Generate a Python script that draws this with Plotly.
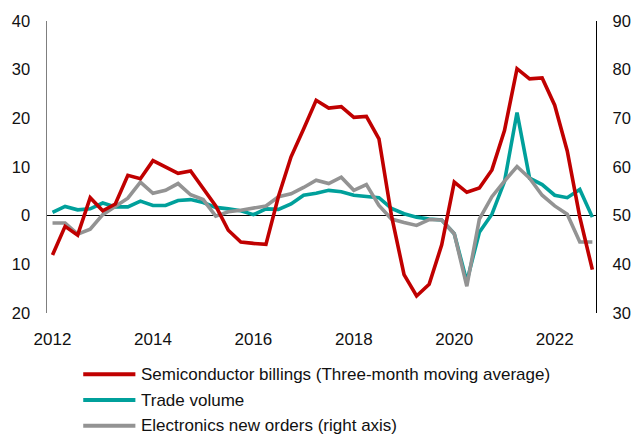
import plotly.graph_objects as go

# Quarterly periods 2012Q1 .. 2022Q4
quarters = [f"{y}Q{q}" for y in range(2012, 2023) for q in range(1, 5)]

semiconductor_billings = [-8.1, -2.2, -4.0, 3.7, 1.0, 2.4, 8.3, 7.6, 11.3, 10.1,
                          8.7, 9.2, 5.7, 2.0, -3.0, -5.4, -5.7, -5.9, 4.0, 12.1,
                          17.8, 23.7, 22.1, 22.4, 20.2, 20.4, 15.8, 0.0, -12.1, -16.5,
                          -14.1, -6.0, 6.9, 4.8, 5.7, 9.4, 17.5, 30.2, 28.1, 28.3,
                          22.7, 13.3, -0.3, -11.1]
trade_volume = [0.7, 1.9, 1.2, 1.4, 2.6, 1.8, 1.8, 3.0, 2.1, 2.1,
                3.1, 3.3, 2.7, 1.7, 1.4, 1.0, 0.2, 1.4, 1.3, 2.4,
                4.2, 4.6, 5.2, 4.9, 4.2, 3.9, 3.7, 1.5, 0.4, -0.3,
                -0.7, -0.9, -3.7, -13.5, -3.4, 0.3, 7.0, 21.2, 7.7, 6.4,
                4.2, 3.7, 5.4, -0.3]
electronics_orders = [48.5, 48.5, 46.2, 47.2, 50.2, 51.9, 53.6, 56.9, 54.6, 55.2,
                      56.6, 54.3, 53.3, 49.9, 50.8, 51.1, 51.5, 52.0, 53.9, 54.5,
                      55.8, 57.3, 56.6, 57.9, 55.2, 56.4, 52.1, 49.3, 48.6, 48.0,
                      49.2, 49.1, 46.3, 35.5, 49.3, 53.9, 57.1, 60.1, 57.7, 54.2,
                      52.0, 50.3, 44.6, 44.6]

series_names = ["Semiconductor billings (Three-month moving average)",
                "Trade volume",
                "Electronics new orders (right axis)"]
series_colors = ["#C00000", "#00A09B", "#939393"]

x_tick_vals = ["2012Q1", "2014Q1", "2016Q1", "2018Q1", "2020Q1", "2022Q1"]
x_tick_text = ["2012", "2014", "2016", "2018", "2020", "2022"]
left_tick_vals = [-20, -10, 0, 10, 20, 30, 40]
left_tick_text = ["20", "10", "0", "10", "20", "30", "40"]
right_tick_vals = [30, 40, 50, 60, 70, 80, 90]

FONT = "Liberation Sans, Arial, sans-serif"

fig = go.Figure()
fig.add_trace(go.Scatter(x=quarters, y=trade_volume, mode="lines", name=series_names[1],
                         line=dict(color=series_colors[1], width=3.6), yaxis="y"))
fig.add_trace(go.Scatter(x=quarters, y=electronics_orders, mode="lines", name=series_names[2],
                         line=dict(color=series_colors[2], width=3.6), yaxis="y2"))
fig.add_trace(go.Scatter(x=quarters, y=semiconductor_billings, mode="lines", name=series_names[0],
                         line=dict(color=series_colors[0], width=3.6), yaxis="y3"))

# custom legend (long line samples)
shapes = []
annotations = []
row_y = [-0.21, -0.298, -0.386]
for name, color, yy in zip(series_names, series_colors, row_y):
    shapes.append(dict(type="line", xref="paper", yref="paper",
                       x0=0.066, x1=0.161, y0=yy, y1=yy,
                       line=dict(color=color, width=4)))
    annotations.append(dict(xref="paper", yref="paper", x=0.168, y=yy,
                            text=name, showarrow=False, xanchor="left", yanchor="middle",
                            font=dict(family=FONT, size=17, color="#111111")))

fig.update_layout(
    width=643, height=438,
    margin=dict(l=45, r=36, t=17, b=125),
    paper_bgcolor="white", plot_bgcolor="white",
    showlegend=False,
    hovermode=False,
    shapes=shapes, annotations=annotations,
    font=dict(family=FONT, size=16.5, color="#111111"),
    xaxis=dict(type="category", categoryorder="array", categoryarray=quarters,
               range=[-0.44, 43.29], showgrid=False, showline=False, zeroline=False,
               tickvals=x_tick_vals, ticktext=x_tick_text,
               ticks="outside", ticklen=11, tickcolor="rgba(0,0,0,0)",
               tickfont=dict(size=17)),
    yaxis=dict(range=[-20, 40], tickvals=left_tick_vals, ticktext=left_tick_text,
               showgrid=False, showline=True, linecolor="#7f7f7f", linewidth=1.5,
               zeroline=True, zerolinecolor="#000000", zerolinewidth=1,
               ticks="outside", ticklen=12, tickcolor="rgba(0,0,0,0)"),
    yaxis2=dict(range=[30, 90], tickvals=right_tick_vals, overlaying="y", side="right",
                showgrid=False, showline=True, linecolor="#000000", linewidth=1.3,
                zeroline=False,
                ticks="outside", ticklen=12, tickcolor="rgba(0,0,0,0)"),
    yaxis3=dict(range=[-20, 40], overlaying="y", visible=False, showgrid=False,
                zeroline=False),
)

fig.write_html("out.html",
               config={"displayModeBar": False, "staticPlot": True},
               post_script="document.body.style.margin='0';document.body.style.padding='0';")
